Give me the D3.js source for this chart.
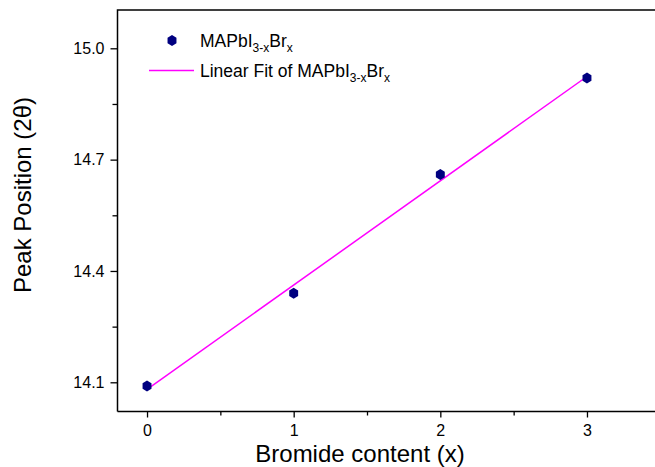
<!DOCTYPE html>
<html>
<head>
<meta charset="utf-8">
<script src="https://cdn.jsdelivr.net/npm/d3@7"></script>
<style>
  html, body { margin: 0; padding: 0; background: #fff; }
  svg { display: block; font-family: "Liberation Sans", Arial, sans-serif; }
</style>
</head>
<body>
<svg id="chart" width="655" height="467"></svg>
<script>
// ---- data ----
const bromideX = [0, 1, 2, 3];
const peakPos = [14.09, 14.34, 14.66, 14.92];
const xTicks = [0, 1, 2, 3];
const xMinor = [0.5, 1.5, 2.5];
const yTicks = [14.1, 14.4, 14.7, 15.0];
const yMinor = [14.25, 14.55, 14.85];
const seriesName = ["MAPbI", "3-x", "Br", "x"];

(function () {
// ---- layout ----
const svg = d3.select("#chart");
const plotLeft = 117.5, plotTop = 10, plotBottom = 411.5;
const x = d3.scaleLinear().domain([-0.2, 3.5]).range([117.7, 660.3]);
const y = d3.scaleLinear().domain([14.1, 15.0]).range([382.3, 48.3]);

// linear fit (least squares)
const n = bromideX.length;
const mx = d3.mean(bromideX), my = d3.mean(peakPos);
const slope = d3.sum(bromideX.map((v, i) => (v - mx) * (peakPos[i] - my))) /
              d3.sum(bromideX.map(v => (v - mx) * (v - mx)));
const intercept = my - slope * mx;
const fitX = [bromideX[0], bromideX[n - 1]];

// frame
svg.append("path")
  .attr("d", `M${plotLeft},${plotBottom} L${plotLeft},${plotTop} L700,${plotTop}`)
  .attr("fill", "none").attr("stroke", "#000").attr("stroke-width", 1.5);
svg.append("line").attr("x1", plotLeft).attr("x2", 700)
  .attr("y1", plotBottom).attr("y2", plotBottom)
  .attr("stroke", "#000").attr("stroke-width", 1.5);

// x axis
const xAxis = d3.axisBottom(x).tickValues(xTicks).tickFormat(d3.format("d"))
  .tickSize(6).tickPadding(7);
const gx = svg.append("g").attr("transform", `translate(0,${plotBottom})`).call(xAxis);
gx.select(".domain").remove();
gx.selectAll(".tick line").attr("stroke", "#000").attr("stroke-width", 1.3);
gx.selectAll(".tick text").attr("font-size", 16).attr("fill", "#000")
  .attr("font-family", "Liberation Sans, Arial, sans-serif");
const gxm = svg.append("g").attr("transform", `translate(0,${plotBottom})`)
  .call(d3.axisBottom(x).tickValues(xMinor).tickSize(4).tickFormat(""));
gxm.select(".domain").remove();
gxm.selectAll(".tick line").attr("stroke", "#000").attr("stroke-width", 1.3);

// y axis
const yAxis = d3.axisLeft(y).tickValues(yTicks).tickFormat(d3.format(".1f"))
  .tickSize(7).tickPadding(6);
const gy = svg.append("g").attr("transform", `translate(${plotLeft},0)`).call(yAxis);
gy.select(".domain").remove();
gy.selectAll(".tick line").attr("stroke", "#000").attr("stroke-width", 1.3);
gy.selectAll(".tick text").attr("font-size", 16).attr("fill", "#000")
  .attr("font-family", "Liberation Sans, Arial, sans-serif");
const gym = svg.append("g").attr("transform", `translate(${plotLeft},0)`)
  .call(d3.axisLeft(y).tickValues(yMinor).tickSize(5).tickFormat(""));
gym.select(".domain").remove();
gym.selectAll(".tick line").attr("stroke", "#000").attr("stroke-width", 1.3);

// axis titles
svg.append("text").attr("x", 360).attr("y", 462)
  .attr("text-anchor", "middle").attr("font-size", 24).attr("fill", "#000")
  .text("Bromide content (x)");
svg.append("text").attr("transform", "translate(31,195) rotate(-90)")
  .attr("text-anchor", "middle").attr("font-size", 24).attr("fill", "#000")
  .text("Peak Position (2θ)");

// hexagon path
function hex(r) {
  const pts = d3.range(6).map(i => {
    const a = Math.PI / 2 + i * Math.PI / 3;
    return [r * 0.92 * Math.cos(a), -r * Math.sin(a)];
  });
  return "M" + pts.map(p => p.join(",")).join("L") + "Z";
}

// fit line
svg.append("line")
  .attr("x1", x(fitX[0])).attr("y1", y(intercept + slope * fitX[0]))
  .attr("x2", x(fitX[1])).attr("y2", y(intercept + slope * fitX[1]))
  .attr("stroke", "#ff00ff").attr("stroke-width", 1.5);

// points
svg.selectAll("path.pt").data(bromideX).join("path").attr("class", "pt")
  .attr("d", hex(5.6))
  .attr("transform", (d, i) => `translate(${x(d)},${y(peakPos[i])})`)
  .attr("fill", "#000080");

// legend
svg.append("path").attr("d", hex(5.6)).attr("transform", "translate(172,40.5)")
  .attr("fill", "#000080");
function legendText(xp, yp, prefix) {
  const t = svg.append("text").attr("x", xp).attr("y", yp)
    .attr("font-size", 17.5).attr("fill", "#000");
  t.append("tspan").text(prefix + seriesName[0]);
  t.append("tspan").attr("font-size", 12).attr("dy", 5).text(seriesName[1]);
  t.append("tspan").attr("dy", -5).text(seriesName[2]);
  t.append("tspan").attr("font-size", 12).attr("dy", 5).text(seriesName[3]);
}
legendText(200, 46.5, "");
svg.append("line").attr("x1", 149).attr("x2", 194).attr("y1", 70.5).attr("y2", 70.5)
  .attr("stroke", "#ff00ff").attr("stroke-width", 1.5);
legendText(200, 76.5, "Linear Fit of ");
})();
</script>
</body>
</html>
